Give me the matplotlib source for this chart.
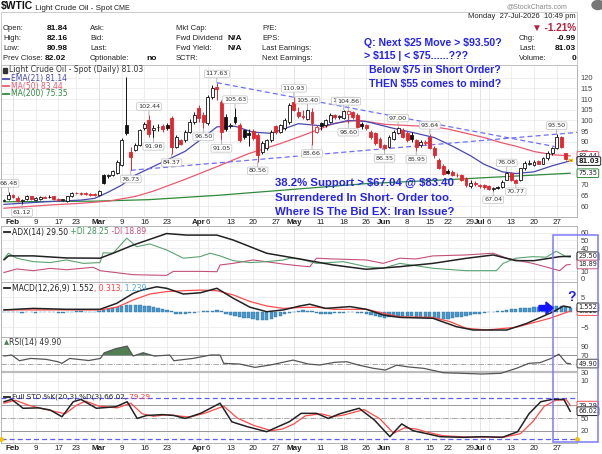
import numpy as np
import pandas as pd
import matplotlib
matplotlib.use('Agg')
import matplotlib.pyplot as plt
from matplotlib.patches import Rectangle, Polygon, Circle
from matplotlib.lines import Line2D

W, H = 602, 454
SANS = ['Liberation Sans', 'DejaVu Sans']
SMALL = ['DejaVu Sans']
plt.rcParams['font.family'] = SANS
plt.rcParams['text.parse_math'] = False

# trading days (holidays removed)
holidays = ['2026-02-16', '2026-04-03', '2026-05-25', '2026-06-19', '2026-07-03']
days = pd.bdate_range('2026-01-29', '2026-07-30')
days = days[~days.isin(pd.to_datetime(holidays))]

tick_dates = ['2026-02-02', '2026-02-09', '2026-02-17', '2026-02-23', '2026-03-02', '2026-03-09',
              '2026-03-16', '2026-03-23', '2026-04-01', '2026-04-06', '2026-04-13', '2026-04-20',
              '2026-04-27', '2026-05-01', '2026-05-11', '2026-05-18', '2026-05-26', '2026-06-01',
              '2026-06-08', '2026-06-15', '2026-06-22', '2026-06-29', '2026-07-01', '2026-07-06',
              '2026-07-13', '2026-07-20', '2026-07-27']
tick_labels = ['Feb', '9', '17', '23', 'Mar', '9', '16', '23', 'Apr', '6', '13', '20', '27',
               'May', '11', '18', '26', 'Jun', '8', '15', '22', '29', 'Jul', '6', '13', '20', '27']

# daily OHLC
opens = [62.6, 63.5, 65.0, 64.0, 62.5, 63.3, 64.5, 63.0, 63.2, 64.2,
         64.2, 64.5, 63.5, 62.9, 62.2, 64.5, 66.0, 66.1, 66.0, 65.8,
         65.5, 65.2, 74.5, 74.0, 74.5, 75.3, 79.2, 97.9, 85.4, 86.2,
         88.5, 96.3, 100.2, 95.5, 96.8, 97.5, 97.8, 101.0, 87.8, 90.9,
         90.9, 94.8, 99.5, 105.7, 102.5, 98.7, 111.1, 115.5, 108.8, 101.8,
         97.5, 101.8, 97.9, 95.5, 94.0, 95.0, 93.2, 85.1, 87.0, 90.9,
         97.2, 94.8, 96.3, 99.4, 108.5, 104.0, 102.0, 100.5, 104.1, 94.8,
         98.7, 97.8, 99.5, 102.5, 101.5, 101.2, 102.8, 104.0, 102.5, 98.5,
         97.8, 94.8, 94.0, 91.5, 88.6, 87.8, 91.5, 94.0, 95.5, 94.0,
         93.2, 90.9, 88.5, 89.5, 92.4, 87.0, 81.5, 78.5, 76.5, 76.0,
         74.5, 74.5, 73.0, 69.5, 70.7, 70.0, 70.0, 69.2, 68.0, 68.8,
         69.0, 72.3, 75.5, 72.0, 72.2, 77.6, 79.8, 79.2, 81.0, 79.8,
         82.3, 84.6, 87.0, 92.4, 84.6, 81.84]
highs = [63.3, 66.48, 65.5, 64.5, 63.5, 65.0, 64.8, 64.2, 64.8, 64.6,
         65.3, 64.8, 63.8, 63.5, 64.8, 66.6, 66.6, 66.4, 66.4, 66.2,
         66.0, 67.6, 75.0, 75.0, 77.0, 81.5, 92.0, 120.2, 87.8, 89.5,
         96.2, 99.5, 102.44, 98.0, 98.5, 98.5, 99.0, 102.0, 93.0, 91.5,
         95.5, 100.5, 104.0, 107.0, 104.0, 112.0, 116.5, 117.63, 109.5, 103.0,
         99.0, 105.63, 99.0, 96.0, 96.0, 96.0, 94.0, 90.5, 91.5, 95.5,
         98.0, 98.5, 101.0, 108.0, 110.93, 106.5, 105.0, 105.40, 106.0, 98.0,
         99.5, 100.5, 103.5, 103.0, 102.5, 105.02, 104.86, 104.5, 103.5, 99.5,
         98.5, 95.5, 94.5, 92.5, 89.0, 93.0, 95.5, 97.00, 96.5, 95.0,
         94.5, 91.5, 91.0, 91.0, 93.64, 88.0, 82.5, 79.5, 77.2, 77.0,
         75.5, 75.0, 73.5, 72.0, 71.5, 70.5, 70.5, 69.8, 69.0, 69.5,
         72.0, 76.08, 76.0, 72.5, 78.0, 81.0, 81.5, 81.5, 81.5, 83.0,
         85.5, 87.8, 93.50, 92.8, 85.0, 82.16]
lows = [62.2, 63.0, 63.8, 62.0, 61.12, 63.0, 62.8, 62.5, 62.9, 63.6,
        63.8, 62.9, 62.4, 62.5, 62.0, 64.2, 65.6, 65.4, 65.0, 64.9,
        64.8, 64.9, 70.3, 73.3, 74.0, 74.8, 78.5, 93.0, 76.73, 85.5,
        88.0, 95.5, 92.5, 91.96, 95.0, 94.5, 95.5, 84.37, 87.0, 88.5,
        90.0, 94.0, 98.5, 99.5, 96.50, 98.0, 110.0, 109.5, 91.05, 95.0,
        96.5, 98.5, 90.0, 91.5, 88.0, 91.0, 80.56, 84.5, 86.0, 90.0,
        93.5, 94.0, 95.5, 98.5, 104.5, 101.0, 100.5, 100.0, 88.66, 94.0,
        95.5, 97.0, 99.0, 100.5, 100.5, 100.5, 98.60, 100.5, 96.0, 96.0,
        95.5, 91.5, 88.5, 87.0, 86.35, 87.0, 91.0, 93.5, 92.0, 90.0,
        90.0, 85.95, 87.5, 88.5, 86.5, 82.5, 77.5, 74.5, 74.8, 74.0,
        73.5, 71.5, 69.0, 68.5, 69.5, 68.5, 68.0, 67.5, 67.04, 68.0,
        68.5, 72.0, 71.5, 70.77, 71.5, 77.0, 79.0, 78.5, 79.5, 79.5,
        81.5, 84.0, 86.5, 87.0, 81.5, 80.98]
closes = [62.9, 65.0, 64.2, 62.5, 63.0, 64.5, 63.2, 63.8, 64.3, 64.0,
          64.4, 63.2, 62.8, 63.1, 64.5, 66.3, 66.2, 65.8, 65.5, 65.3,
          65.2, 67.0, 70.7, 74.3, 76.3, 80.7, 90.9, 94.0, 83.0, 88.5,
          95.5, 98.2, 93.5, 96.5, 97.0, 96.0, 96.5, 87.8, 92.4, 89.0,
          94.8, 99.5, 102.5, 101.0, 99.5, 111.1, 115.0, 114.5, 94.8, 96.0,
          98.0, 99.5, 90.9, 92.4, 93.0, 92.0, 84.0, 89.3, 90.9, 94.8,
          94.5, 97.9, 100.2, 107.2, 105.0, 102.0, 101.5, 105.0, 98.7, 97.1,
          97.5, 100.2, 102.6, 101.8, 101.9, 104.5, 104.2, 101.5, 97.0, 97.5,
          96.5, 92.5, 89.4, 87.8, 87.0, 92.4, 94.8, 96.3, 92.4, 90.9,
          91.5, 87.8, 90.0, 89.8, 87.0, 84.0, 78.0, 75.0, 75.6, 74.5,
          74.3, 72.2, 69.8, 71.0, 70.2, 69.3, 68.8, 68.0, 68.3, 68.5,
          71.4, 75.3, 72.2, 71.0, 77.6, 80.0, 80.2, 80.8, 79.8, 82.3,
          84.6, 87.0, 92.4, 87.8, 82.02, 81.03]

# labelled highs / lows (day index)
hi_idx = [1, 32, 47, 51, 64, 67, 75, 76, 87, 94, 111, 122]
lo_idx = [4, 28, 33, 37, 44, 48, 56, 68, 76, 84, 91, 108, 113]

# overlays read at sample days
ema_i = [0, 9, 17, 20, 23, 26, 29, 33, 40, 44, 47, 51, 55, 59, 65, 70, 73, 76, 80, 86, 91, 95, 99, 103, 106, 110, 113, 117, 121, 125]
ema_v = [60.8, 62.0, 62.8, 63.6, 66.5, 69.8, 74.5, 78.5, 85.6, 92.0, 97.0, 97.3, 94.5, 94.0, 98.5, 97.5, 98.5, 100.0, 99.5, 96.3, 94.0, 92.0, 88.0, 83.5, 79.5, 76.0, 75.2, 76.0, 78.8, 81.14]
ma50_i = [0, 10, 17, 23, 29, 33, 40, 47, 54, 61, 66, 73, 78, 84, 95, 98, 102, 106, 110, 113, 117, 121, 125]
ma50_v = [59.0, 60.5, 61.3, 62.3, 64.5, 67.0, 72.5, 78.4, 84.5, 89.2, 93.0, 98.7, 100.2, 98.2, 97.0, 96.0, 94.0, 92.0, 89.5, 88.0, 85.5, 84.0, 83.44]
ma200_i = [0, 20, 32, 47, 65, 80, 95, 110, 125]
ma200_v = [62.0, 62.3, 63.0, 65.0, 68.0, 70.5, 72.0, 73.7, 75.35]

# hand-drawn trend lines
up_i, up_v = [47, 121.6], [117.63, 87.8]
low_i, low_v = [28, 126.5], [76.73, 94.4]

# ADX(14)
adx_i = [0, 1, 6.5, 13.8, 21.2, 24.1, 28.5, 35.9, 40.3, 47, 50.6, 58, 65.3, 72.7, 80, 87.4, 94.7, 102, 108, 113, 117, 122.7, 125]
adx_v = [25, 30, 30, 27.3, 27, 33.5, 44, 59, 57, 57, 50.6, 33.4, 26, 18.2, 12.6, 16, 20.3, 26.8, 31.2, 23.8, 23.8, 29, 29.5]
pdi_i = [0, 1, 2.8, 6.5, 10.2, 13.8, 17.5, 21.2, 21.9, 24.1, 27.1, 29.3, 32.2, 35.9, 39.6, 43.3, 45.5, 47.7, 50.6, 54.3,
         58, 61.7, 63.1, 65.3, 69, 74.9, 80, 83.7, 87.4, 94.7, 102, 108.7, 110.2, 113, 116.7, 119.7, 121.9, 124.1, 125]
pdi_v = [26, 33.5, 27, 22.5, 21.3, 24.7, 20.3, 21.3, 34, 33.5, 53, 41.9, 45.5, 37.7, 27, 29, 33.5, 30, 23.8, 21.3,
         22.5, 24.7, 27, 26, 20.3, 22.5, 16, 13.9, 20.3, 13.9, 10.8, 10.8, 20.3, 27, 29, 28.3, 36, 29, 28.25]
mdi_i = [0, 2.8, 6.5, 10.2, 13.8, 19.7, 21.2, 28.5, 35.9, 37.4, 43.3, 47, 47.7, 50.6, 55, 61.7,
         65.3, 67.5, 69, 72.7, 80, 83.7, 87.4, 91, 94.7, 102, 108, 111, 116.7, 122.7, 124.1, 125]
mdi_v = [8.4, 13, 10.8, 13.8, 12, 15.2, 10.8, 5.6, 4.7, 9.9, 9.9, 9.5, 18.2, 20.3, 24.7, 19.4,
         17, 16, 27, 26, 24.7, 20.3, 27, 26, 30, 31.2, 33.5, 27, 20.3, 10.8, 18.2, 18.89]

# MACD(12,26,9)
macd_i = [0, 6.5, 13.8, 21.2, 24.9, 28.5, 30, 33.7, 35.9, 39.6, 43.3, 47, 50.6, 54.3, 58, 61.7,
          65.3, 67.5, 71, 76.4, 80, 83.7, 87.4, 94.7, 99.9, 103.6, 111, 115.4, 121.3, 123.5, 125]
macd_v = [0.7, 1.2, 0.9, 0.9, 2.9, 6.2, 7.1, 8.4, 7.9, 6.0, 6.4, 7.9, 4.6, 1.6, 0.1, 0.7,
          2.0, 2.6, 1.2, 1.8, 0.9, -1.0, -1.8, -2.1, -4.9, -6.0, -6.0, -3.8, 0.1, 2.0, 1.552]
sig_i = [0, 21.2, 24.9, 28.5, 32.2, 35.9, 39.6, 43.3, 47, 50.6, 54.3, 58, 61.7, 65.3, 69, 72.7,
         80, 83.7, 87.4, 94.7, 98.4, 102, 106.5, 113, 120.5, 125]
sig_v = [0.7, 0.7, 1.6, 4.0, 6.0, 6.8, 7.1, 7.3, 7.1, 5.7, 3.5, 2.0, 1.2, 1.5, 1.6, 0.9,
         0.9, -0.4, -1.6, -1.8, -3.2, -5.4, -6.0, -5.1, -2.1, 0.313]
hist = [-0.1, -0.1, 0.0, -0.1, -0.2, -0.1, -0.1, -0.2, -0.1, 0.0, 0.1, -0.1, -0.2, -0.2, -0.1, 0.1, 0.2, 0.2, 0.1, 0.1, 0.1,
        0.3, 0.8, 1.0, 1.3, 1.6, 2.0, 2.5, 2.3, 2.2, 2.2, 2.1, 2.0, 1.6, 1.3, 1.0, 0.7, 0.2,
        -0.5, -0.6, -0.5, -0.3, -0.2, -0.1, 0.2, 0.4, 0.5, 0.6, 0.2,
        -0.6, -1.0, -1.3, -1.6, -1.9, -2.1, -2.4, -2.7, -2.8, -2.6, -2.2, -1.8, -1.3, -0.8,
        -0.3, 0.1, 0.4,
        0.6, 0.5, 0.2, -0.3, -0.5, -0.6, -0.5, -0.4, -0.3, -0.2, -0.1, 0.0, -0.2, -0.4, -0.6,
        -0.9, -1.3, -1.6, -1.9, -1.8, -1.5, -1.2, -1.2, -1.3, -1.4, -1.6, -1.6, -1.5, -1.6, -1.9,
        -2.2, -2.3, -2.2, -2.0, -1.8, -1.6, -1.3, -1.0, -0.8, -0.5, -0.3, -0.1, 0.1, 0.3, 0.5,
        0.8, 0.9, 1.0, 1.2, 1.4, 1.5, 1.6, 1.7, 1.8, 1.9, 2.0, 2.1, 2.0, 1.6, 1.239]

# RSI(14)
rsi_i = [0, 1.7, 3.4, 5.9, 9.3, 11.9, 12.8, 14.5, 18.7, 21.3, 22.1, 24.7, 27.2, 28.5, 30.7, 33.2,
         36.6, 37.5, 41.7, 45.6, 47.7, 48.5, 52, 55.4, 58.8, 63.8, 67.2, 69.7, 73.1, 75.7, 78.2,
         81.6, 84.2, 86.7, 89.3, 92.7, 97, 101.2, 105.5, 109.7, 113.1, 115.9, 118.3, 120.8, 122.5, 124.2, 125]
rsi_v = [67.6, 70, 56.6, 62, 59.8, 54.2, 50.4, 62, 57, 62, 75, 85, 91, 67.6, 75.4, 67.6,
         70, 56.6, 62, 70, 70, 50.4, 48.8, 41, 46.5, 58, 48.8, 46.5, 53, 54.2, 46.5,
         38.6, 34.7, 46, 42, 38.6, 28.4, 26.9, 25.3, 27, 38.6, 50.4, 52, 62, 72, 50.4, 49.9]

# Full STO %K(20,3) %D(3)
k_i = [0, 1.7, 4.2, 7.6, 10.2, 12.8, 15.3, 17, 20.4, 24.7, 27.2, 29.4, 31.5, 34.9, 37.5, 40, 43.4, 47.7,
       50.3, 53.7, 58, 60.5, 63, 65.6, 69, 71.6, 74.1, 78.4, 81.8, 85.2, 87.8, 90.3, 92.9, 96.3,
       101.4, 105.7, 110, 113.4, 115.9, 118.5, 121, 123.6, 125]
k_v = [88.5, 94, 73, 74, 68.9, 53, 88.5, 94, 73, 76.7, 88.5, 49, 56, 58, 56, 49, 61, 85,
       41, 29.5, 17.6, 29.5, 41.3, 61, 61, 49, 60, 73, 45, 5.8, 36, 20, 14, 5.8,
       4.3, 5.8, 4.3, 17.6, 60, 88.5, 94, 94, 66.02]
d_i = [0, 2.5, 5.5, 8.5, 11, 13.5, 16, 18, 21, 25, 28, 30.5, 33, 36, 38.5, 41, 44.5, 48.5,
       51.5, 55, 59, 61.5, 64, 66.5, 70, 72.5, 75, 79.5, 83, 86, 88.5, 91, 94, 97,
       102, 106, 110.5, 114, 116.8, 119.3, 121.8, 124.2, 125]
d_v = [85, 92, 80, 72, 66, 60, 80, 90, 78, 74, 85, 60, 54, 58, 55, 52, 62, 78,
       50, 33, 20, 24, 36, 55, 60, 53, 57, 70, 48, 14, 27, 24, 15, 8,
       5, 5, 5, 13, 42, 78, 92, 93, 79.29]
sto_band = [96.5, 1.0]

BLUE = '#2424f0'

fig = plt.figure(figsize=(W / 100, H / 100), dpi=100)


def rect(top, bottom, left=1, right=577):
    return [left / W, 1 - bottom / H, (right - left) / W, (bottom - top) / H]


def fx(v):
    return v / W


def fy(v):
    return 1 - v / H


def ftext(px, py, s, **kw):
    kw.setdefault('fontsize', 5.5)
    kw.setdefault('va', 'center')
    return fig.text(fx(px), fy(py), s, **kw)


n = len(closes)
x = np.arange(n)
tick_pos = [days.get_loc(pd.Timestamp(d)) for d in tick_dates]
month_pos = [p for p, t in zip(tick_pos, tick_labels) if t.isalpha()]


def style(ax, ylim, yticks, labels=False):
    ax.set_xlim(-0.66, 126.5)
    ax.set_ylim(*ylim)
    ax.yaxis.tick_right()
    ax.set_yticks(yticks)
    ax.tick_params(axis='y', length=0, pad=2.5, labelsize=5.4, labelcolor='#444')
    ax.set_xticks(tick_pos)
    ax.tick_params(axis='x', length=0, pad=1.5)
    if labels:
        ax.set_xticklabels(tick_labels, fontsize=5.8, color='#222')
        for t in ax.get_xticklabels():
            if t.get_text().isalpha():
                t.set_fontweight('bold')
    else:
        ax.set_xticklabels([])
    ax.grid(True, color='#e8e8e8', lw=0.5)
    for p in month_pos:
        ax.axvline(p, color='#d4d4d4', lw=0.6, zorder=0)
    for s in ax.spines.values():
        s.set_color('#a8a8a8')
        s.set_linewidth(0.6)
    ax.set_axisbelow(True)


def tag(ax, y, txt, ec, bold=False):
    ax.annotate(txt, xy=(1, y), xycoords=('axes fraction', 'data'), xytext=(1, 0),
                textcoords='offset points', ha='left', va='center', fontsize=4.8,
                family=SMALL, fontweight='bold' if bold else 'normal', color='#222',
                bbox=dict(boxstyle='round,pad=0.2', fc='white', ec=ec, lw=0.7),
                annotation_clip=False, zorder=6)


def legend(ax, px, py, parts, size=5.5):
    fig.add_artist(Line2D([fx(px - 8), fx(px - 2)], [fy(py), fy(py)], color=parts[0][1], lw=1.3))
    t = ftext(px, py, parts[0][0], color=parts[0][1], fontsize=size, family=SMALL)
    for s, c in parts[1:]:
        t = ax.annotate(s, xy=(1, 0), xycoords=t, va='bottom', ha='left', color=c,
                        fontsize=size, family=SMALL, annotation_clip=False)


# ---------------- main price panel ----------------
ax = fig.add_axes(rect(65, 217))
style(ax, (54.9, 125.9), list(range(60, 121, 5)), labels=True)
ax.plot(ma200_i, ma200_v, color='#2f8a3a', lw=0.9, zorder=2)
ax.plot(ma50_i, ma50_v, color='#ea5a70', lw=0.9, zorder=2)
ax.plot(ema_i, ema_v, color='#4848b2', lw=0.9, zorder=2)
ax.plot(up_i, up_v, color='#6f6fff', lw=0.9, ls=(0, (4, 2.5)), zorder=2)
ax.plot(low_i, low_v, color='#6f6fff', lw=0.9, ls=(0, (4, 2.5)), zorder=2)

o, h, l, c = map(np.array, (opens, highs, lows, closes))
prev = np.r_[c[0], c[:-1]]
col = np.where(c >= prev, '#111111', '#e3262e')
face = np.where(c > o, 'white', col)
ax.vlines(x, l, h, colors=col, lw=0.7, zorder=3)
bars = ax.bar(x, np.maximum(np.abs(c - o), 0.25), bottom=np.minimum(o, c), width=0.64,
              color=face, edgecolor=col, linewidth=0.6, zorder=4)
bars[-1].set_edgecolor('#f2c200')
bars[-1].set_linewidth(0.9)

lbl_box = dict(boxstyle='round,pad=0.2', fc='white', ec='#bdbdbd', lw=0.5, alpha=0.95)
lead = dict(arrowstyle='-', color='#9a9a9a', lw=0.5, shrinkA=0, shrinkB=0)
for i in hi_idx:
    ax.annotate(f'{highs[i]:.2f}', xy=(i, highs[i]), xytext=(0, 4.5), textcoords='offset points',
                ha='center', va='bottom', fontsize=4.6, family=SMALL, color='#333',
                bbox=lbl_box, arrowprops=lead, zorder=5)
for i in lo_idx:
    ax.annotate(f'{lows[i]:.2f}', xy=(i, lows[i]), xytext=(0, -4.5), textcoords='offset points',
                ha='center', va='top', fontsize=4.6, family=SMALL, color='#333',
                bbox=lbl_box, arrowprops=lead, zorder=5)

tag(ax, ma50_v[-1], f'{ma50_v[-1]:.2f}', '#ea5a70')
tag(ax, ema_v[-1], f'{ema_v[-1]:.2f}', '#4848b2')
tag(ax, closes[-1], f'{closes[-1]:.2f}', '#222222', bold=True)
tag(ax, ma200_v[-1], f'{ma200_v[-1]:.2f}', '#2f8a3a')

fig.add_artist(Rectangle((fx(3), fy(73)), 4 / W, 5 / H, transform=fig.transFigure, color='#333'))
ftext(9, 70, f'Light Crude Oil - Spot (Daily) {closes[-1]:.2f}', color='#333', fontsize=5.5, family=SMALL)
legend(ax, 11, 78.5, [(f'EMA(21) {ema_v[-1]:.2f}', '#4848b2')])
legend(ax, 11, 86, [(f'MA(50) {ma50_v[-1]:.2f}', '#ea5a70')])
legend(ax, 11, 93.5, [(f'MA(200) {ma200_v[-1]:.2f}', '#2f8a3a')])

# ---------------- ADX ----------------
ax2 = fig.add_axes(rect(226, 282))
style(ax2, (-3.9, 68.8), [0, 10, 40, 50, 60])
ax2.plot(mdi_i, mdi_v, color='#c4507a', lw=0.8)
ax2.plot(pdi_i, pdi_v, color='#5aa370', lw=0.8)
ax2.plot(adx_i, adx_v, color='#222', lw=1.1)
tag(ax2, pdi_v[-1], f'{pdi_v[-1]:.2f}', '#5aa370')
tag(ax2, adx_v[-1], f'{adx_v[-1]:.2f}', '#222222')
tag(ax2, mdi_v[-1], f'{mdi_v[-1]:.2f}', '#c4507a')
legend(ax2, 12, 232, [(f'ADX(14) {adx_v[-1]:.2f}', '#222'), (f' +DI {pdi_v[-1]:.2f}', '#3f9a5a'),
                      (f' -DI {mdi_v[-1]:.2f}', '#c4507a')])

# ---------------- MACD ----------------
ax3 = fig.add_axes(rect(282, 337))
style(ax3, (-8.33, 10), [-5, 5])
ax3.bar(np.arange(len(hist)), hist, width=0.72, color='#4a97c9', edgecolor='#2f6f9a', lw=0.3, zorder=2)
ax3.plot(sig_i, sig_v, color='#ff4a4a', lw=0.9, zorder=3)
ax3.plot(macd_i, macd_v, color='#222', lw=1.1, zorder=3)
tag(ax3, sig_v[-1], f'{sig_v[-1]:.3f}', '#ff4a4a')
tag(ax3, macd_v[-1], f'{macd_v[-1]:.3f}', '#222222')
legend(ax3, 12, 288, [(f'MACD(12,26,9) {macd_v[-1]:.3f}', '#222'), (f', {sig_v[-1]:.3f}', '#ff3a3a'),
                      (f', {hist[-1]:.3f}', '#4aa3df')])
fig.add_artist(Polygon([(fx(539), fy(305.5)), (fx(546), fy(305.5)), (fx(546), fy(302)), (fx(553), fy(308)),
                        (fx(546), fy(314)), (fx(546), fy(310.5)), (fx(539), fy(310.5))],
                       closed=True, transform=fig.transFigure, color='#1515ff', zorder=10))
ftext(572, 297, '?', color=BLUE, fontsize=10, fontweight='bold', ha='center', zorder=10)

# ---------------- RSI ----------------
ax4 = fig.add_axes(rect(337, 392))
style(ax4, (-17, 112.4), [10, 30, 70, 90])
ax4.axhline(70, color='#8f8f8f', lw=0.7)
ax4.axhline(30, color='#bdbdbd', lw=1.6)
ax4.axhline(50, color='#9a9a9a', lw=0.6, ls='-.')
ri, rv = np.array(rsi_i), np.array(rsi_v)
ax4.fill_between(ri, rv, 70, where=rv >= 70, interpolate=True, color='#4f7f52', lw=0)
ax4.plot(ri, rv, color='#555', lw=0.9)
tag(ax4, rsi_v[-1], f'{rsi_v[-1]:.2f}', '#444444')
ftext(4, 342, '\u25b2', color='#4f7f52', fontsize=4.8, family=SMALL)
ftext(9, 342, f'RSI(14) {rsi_v[-1]:.2f}', color='#333', fontsize=5.5, family=SMALL)

# ---------------- Full STO ----------------
ax5 = fig.add_axes(rect(392, 443))
style(ax5, (-9.1, 111.5), [20, 50], labels=True)
ax5.axhline(80, color='#999', lw=0.7)
ax5.axhline(20, color='#999', lw=0.7)
ax5.axhline(50, color='#9a9a9a', lw=0.6, ls='-.')
for b in sto_band:
    ax5.axhline(b, color='#5c5cff', lw=0.9, ls=(0, (4, 2.5)))
ax5.plot([-0.66, 126.5], [sto_band[1]] * 2, 'o', ms=2.5, color='#f2c200', clip_on=False, zorder=6)
ax5.plot(d_i, d_v, color='#ff4a4a', lw=0.9)
ax5.plot(k_i, k_v, color='#222', lw=1.1)
tag(ax5, d_v[-1], f'{d_v[-1]:.2f}', '#ff4a4a')
tag(ax5, k_v[-1], f'{k_v[-1]:.2f}', '#222222')
legend(ax5, 12, 397, [(f'Full STO %K(20,3) %D(3) {k_v[-1]:.2f},', '#222'), (f' {d_v[-1]:.2f}', '#ff3a3a')],
       size=5.2)

# highlight box on the right
fig.add_artist(Rectangle((fx(553), fy(442)), 45 / W, 207 / H, transform=fig.transFigure,
                         fill=False, ec='#7a7aff', lw=1.1, zorder=9))

# ---------------- header ----------------
t = ftext(1, 6.5, '$WTIC', fontsize=7.5, fontweight='bold', color='#111')
t = ax.annotate(' Light Crude Oil - Spot', xy=(1, 0), xycoords=t, va='bottom', fontsize=5.8,
                color='#222', annotation_clip=False)
ax.annotate(' CME', xy=(1, 0), xycoords=t, va='bottom', fontsize=5.0, color='#222', annotation_clip=False)
ftext(567, 7, '@StockCharts.com', ha='right', fontsize=5.0, color='#888')
fig.add_artist(Circle((fx(598), fy(5)), 6 / W, transform=fig.transFigure, color='#777'))
fig.add_artist(Rectangle((fx(1), fy(65)), 576 / W, 53 / H, transform=fig.transFigure,
                         fill=False, ec='#c4c4c4', lw=0.6))

rows = [29, 39, 49, 59]
for y0, a, b in zip(rows, ['Open:', 'High:', 'Low:', 'Prev Close:'],
                    [f'{opens[-1]:.2f}', f'{highs[-1]:.2f}', f'{lows[-1]:.2f}', f'{closes[-2]:.2f}']):
    ftext(3, y0, a, color='#222')
    ftext(47 if a != 'Prev Close:' else 45, y0, b, fontweight='bold', color='#111', fontsize=6.0)
for y0, a in zip(rows, ['Ask:', 'Bid:', 'Last:', 'Optionable:']):
    ftext(90, y0, a, color='#222')
ftext(146, 59, 'no', fontweight='bold', color='#111', fontsize=6.0)
for y0, a in zip(rows, ['Mkt Cap:', 'Fwd Dividend', 'Fwd Yield:', 'SCTR:']):
    ftext(176, y0, a, color='#222')
ftext(227, 39, 'N/A', fontweight='bold', color='#111', fontsize=6.0)
ftext(227, 49, 'N/A', fontweight='bold', color='#111', fontsize=6.0)
for y0, a in zip(rows, ['P/E:', 'EPS:', 'Last Earnings:', 'Next Earnings:']):
    ftext(262, y0, a, color='#222')
ftext(576, 17, 'Monday  27-Jul-2026  10:49 pm', ha='right', color='#222')
ftext(576, 28, '\u25bc -1.21%', ha='right', fontweight='bold', color='#b3203c', fontsize=7.2)
for y0, a, b in zip(rows[1:], ['Chg:', 'Last:', 'Volume:'],
                    [f'{closes[-1] - closes[-2]:.2f}', f'{closes[-1]:.2f}', '0']):
    ftext(519, y0, a, color='#222')
    ftext(576, y0, b, ha='right', fontweight='bold', color='#111', fontsize=6.0)

# ---------------- blue notes ----------------
ftext(364, 43, 'Q: Next $25 Move > $93.50?', color=BLUE, fontsize=7.6, fontweight='bold', zorder=8)
ftext(364, 56, '> $115 | < $75......???', color=BLUE, fontsize=7.6, fontweight='bold', zorder=8)
ftext(435, 70, 'Below $75 in Short Order?', color=BLUE, fontsize=7.6, fontweight='bold', ha='center', zorder=8)
ftext(435, 84, 'THEN $55 comes to mind?', color=BLUE, fontsize=7.6, fontweight='bold', ha='center', zorder=8)
ftext(275, 183, '38.2% Support > $67.04 @ $83.40', color=BLUE, fontsize=8.2, fontweight='bold', zorder=8)
ftext(275, 198, 'Surrendered In Short- Order too.', color=BLUE, fontsize=8.2, fontweight='bold', zorder=8)
ftext(275, 212, 'Where IS The Bid EX: Iran Issue?', color=BLUE, fontsize=8.2, fontweight='bold', zorder=8)

fig.savefig('out.png', dpi=100)
